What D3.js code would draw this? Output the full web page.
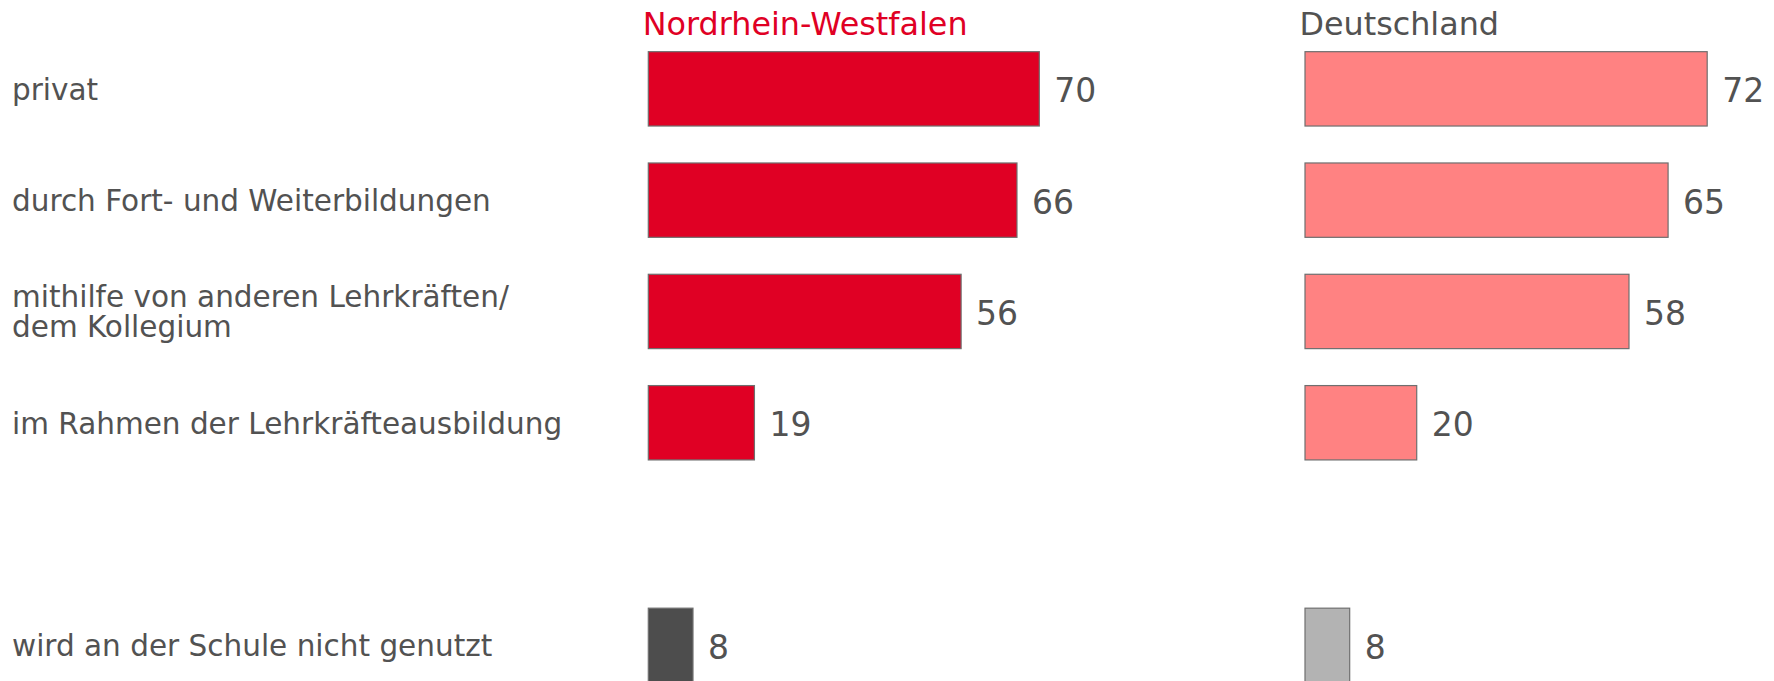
<!DOCTYPE html>
<html lang="de">
<head>
<meta charset="UTF-8">
<title>Aneignung</title>
<script src="https://d3js.org/d3.v7.min.js"></script>
<style>
  body { margin: 0; background: #fff; }
  svg { display: block; font-family: "DejaVu Sans", Verdana, sans-serif; }
</style>
</head>
<body>
<svg id="chart" width="1774" height="681"></svg>
<script>
var width = 1774, height = 681

// categories (top to bottom), the last one is set apart by an empty row
var categories = [
  "privat",
  "durch Fort- und Weiterbildungen",
  "mithilfe von anderen Lehrkräften/\ndem Kollegium",
  "im Rahmen der Lehrkräfteausbildung",
  "wird an der Schule nicht genutzt"
]
var nrwValues = [70, 66, 56, 19, 8]
var deValues = [72, 65, 58, 20, 8]
var seriesNames = ["Nordrhein-Westfalen", "Deutschland"]

var svg = d3.select("#chart")

// row slots: an empty spacer before the last category
var slots = categories.slice(0, 4).concat([""], categories.slice(4))
var y = d3.scaleBand()
  .domain(slots)
  .range([33.2, 33.2 + 6 * 111.3])
  .paddingInner(0.332)
  .paddingOuter(0.166)

var xNrw = d3.scaleLinear().domain([0, 100]).range([648.3, 648.3 + 558.6])
var xDe = d3.scaleLinear().domain([0, 100]).range([1305, 1305 + 558.6])

var textColor = "#525252"

// category labels
var labels = svg.append("g")
  .selectAll("text")
  .data(categories)
  .join("text")
  .attr("x", 12)
  .attr("y", function(d) { return y(d) + y.bandwidth() / 2 + 1 })
  .attr("dominant-baseline", "central")
  .attr("font-size", 29.5)
  .attr("fill", textColor)

labels.each(function(d) {
  var lines = d.split("\n")
  var t = d3.select(this)
  lines.forEach(function(line, i) {
    t.append("tspan")
      .attr("x", 12)
      .attr("dy", i == 0 ? -(lines.length - 1) * 15 : 30)
      .text(line)
  })
})

function drawSeries(values, x, fill, lastFill, title, titleColor) {
  var rows = categories.map(function(c, i) { return {cat: c, v: values[i], last: i == categories.length - 1} })
  var g = svg.append("g")

  g.selectAll("rect")
    .data(rows)
    .join("rect")
    .attr("x", x(0))
    .attr("y", function(d) { return y(d.cat) })
    .attr("width", function(d) { return x(d.v) - x(0) })
    .attr("height", y.bandwidth())
    .attr("fill", function(d) { return d.last ? lastFill : fill })
    .attr("stroke", "#6f6f6f")
    .attr("stroke-width", 1.2)

  g.selectAll("text.val")
    .data(rows)
    .join("text")
    .attr("class", "val")
    .attr("x", function(d) { return x(d.v) + 15 })
    .attr("y", function(d) { return y(d.cat) + y.bandwidth() / 2 + 2 })
    .attr("dominant-baseline", "central")
    .attr("font-size", 33)
    .attr("fill", textColor)
    .text(function(d) { return d.v })

  g.append("text")
    .attr("x", x(0) - 5.5)
    .attr("y", 35)
    .attr("font-size", 31.8)
    .attr("fill", titleColor)
    .text(title)
}

drawSeries(nrwValues, xNrw, "#e00024", "#4d4d4d", seriesNames[0], "#e00024")
drawSeries(deValues, xDe, "#ff8282", "#b3b3b3", seriesNames[1], textColor)
</script>
</body>
</html>
